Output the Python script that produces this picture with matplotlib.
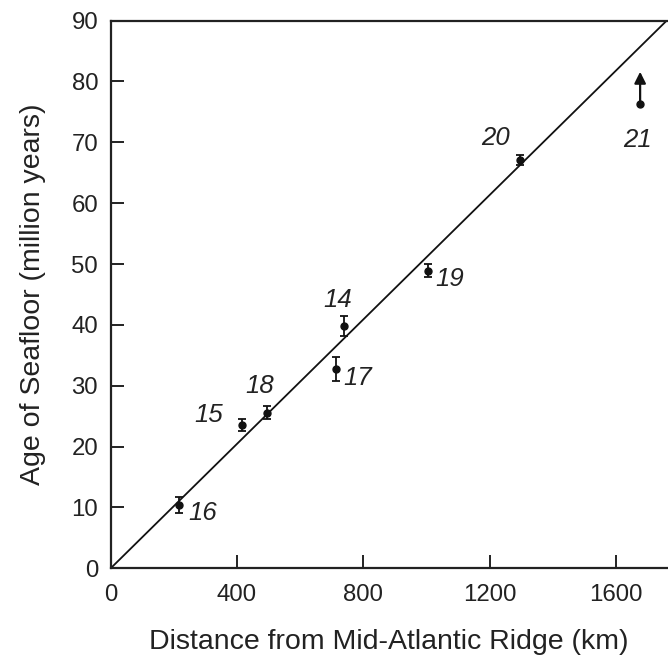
import numpy as np
import matplotlib.pyplot as plt

plt.rcParams['font.family'] = ['Liberation Sans', 'DejaVu Sans']

# sites, distance from ridge (km), age (My), age error
sites = ['14', '15', '16', '17', '18', '19', '20']
dist = [737, 417, 217, 713, 494, 1003, 1296]
age = [39.8, 23.5, 10.4, 32.8, 25.6, 48.9, 67.1]
age_err = [1.6, 1.0, 1.3, 2.0, 1.1, 1.1, 0.8]

# site 21: minimum age only (arrow)
site21_dist = 1676
site21_age = 76.3
site21_arrow_top = 81.6

# label positions for site numbers
label_x = [720, 311, 292, 783, 473, 1074, 1217, 1667]
label_y = [44.1, 25.2, 9.1, 31.3, 30.0, 47.5, 70.7, 70.4]
label_txt = sites + ['21']

# reference line
line_x = [0, 1760]
line_y = [0, 90]

fig = plt.figure(figsize=(6.68, 6.66), dpi=100)
ax = fig.add_axes([0.1657, 0.1467, 0.998 - 0.1657, 0.969 - 0.1467])

ax.plot(line_x, line_y, color='#111111', lw=1.3)
ax.errorbar(dist, age, yerr=age_err, fmt='o', color='#111111', ms=5,
            elinewidth=1.3, capsize=3, capthick=1.3)
ax.plot([site21_dist], [site21_age], 'o', color='#111111', ms=5)
ax.annotate('', xy=(site21_dist, site21_arrow_top), xytext=(site21_dist, site21_age),
            arrowprops=dict(arrowstyle='-|>', color='#111111', lw=1.6,
                            mutation_scale=17, shrinkA=0, shrinkB=0))

for tx, ty, t in zip(label_x, label_y, label_txt):
    ax.text(tx, ty, t, fontsize=18.5, style='italic', ha='center', va='center',
            color='#222222')

ax.set_xlim(0, 1760)
ax.set_ylim(0, 90)
ax.set_xticks([0, 400, 800, 1200, 1600])
ax.set_yticks(np.arange(0, 91, 10))

for s in ['left', 'bottom', 'top']:
    ax.spines[s].set_linewidth(1.6)
    ax.spines[s].set_color('#222222')
ax.spines['right'].set_visible(False)

ax.tick_params(direction='in', length=9.5, width=1.4, labelsize=17.3,
               colors='#222222')
ax.tick_params(axis='x', pad=11)
ax.tick_params(axis='y', pad=9)

ax.set_xlabel('Distance from Mid-Atlantic Ridge (km)', fontsize=20.5,
              labelpad=17, color='#222222')
ax.set_ylabel('Age of Seafloor (million years)', fontsize=20.5,
              labelpad=18, color='#222222')

fig.savefig('out.png', dpi=100)
